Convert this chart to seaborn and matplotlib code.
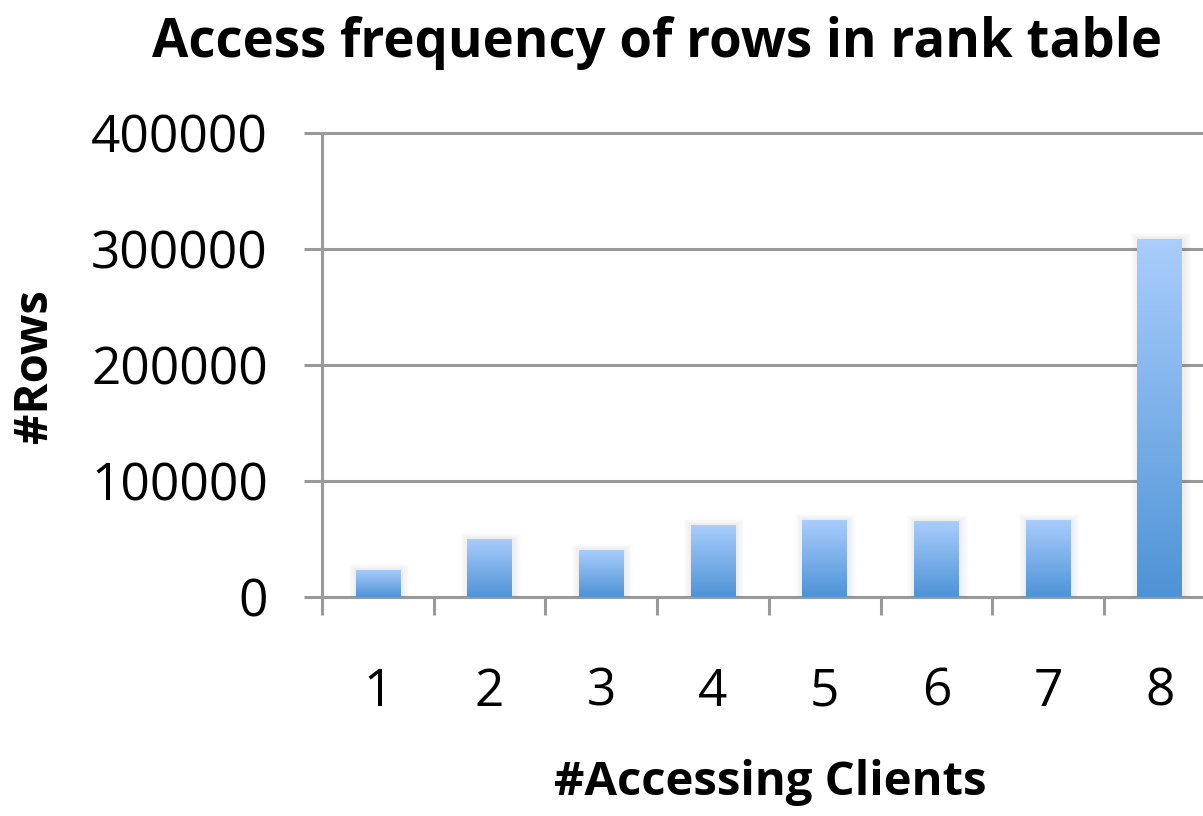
import numpy as np
import pandas as pd
import matplotlib
matplotlib.use("Agg")
import matplotlib.pyplot as plt
import seaborn as sns

# ---- data ----
clients = ["1", "2", "3", "4", "5", "6", "7", "8"]
rows = [23500, 50200, 40700, 62200, 66500, 65700, 66500, 308300]
y_ticks = [0, 100000, 200000, 300000, 400000]

title = "Access frequency of rows in rank table"
xlabel = "#Accessing Clients"
ylabel = "#Rows"

sns.set_theme(style="white")
plt.rcParams["font.family"] = ["Open Sans", "DejaVu Sans"]
plt.rcParams["text.color"] = "black"

W, H = 1203, 816
fig = plt.figure(figsize=(W / 100, H / 100), dpi=100)
ax = fig.add_axes([322 / W, (H - 597.3) / H, 893.6 / W, (597.3 - 132.7) / H])

df = pd.DataFrame({"clients": clients, "rows": rows})
sns.barplot(data=df, x="clients", y="rows", ax=ax, width=0.4,
            color="#7fb2ea", saturation=1, edgecolor="none", linewidth=0)

grid_c = "#9a9a9a"
ax.set_xlim(-0.5, 7.5)
ax.set_ylim(0, 400000)
ax.set_yticks(y_ticks)
ax.set_yticklabels([str(v) for v in y_ticks])
ax.grid(axis="y", color=grid_c, linewidth=2.2)
ax.grid(axis="x", visible=False)
ax.set_axisbelow(True)
for t in ax.yaxis.get_major_ticks():
    t.gridline.set_clip_on(False)

for s in ["top", "right"]:
    ax.spines[s].set_visible(False)
for s in ["left", "bottom"]:
    ax.spines[s].set_color(grid_c)
    ax.spines[s].set_linewidth(2.2)
    ax.spines[s].set_zorder(0.6)

ax.tick_params(axis="y", which="major", direction="out", length=13, width=2.2,
               color=grid_c, pad=26, labelsize=37, labelcolor="black", left=True)
ax.set_xticks(range(len(clients)))
ax.set_xticklabels(clients)
ax.set_xticks(np.arange(-0.5, len(clients), 1.0), minor=True)
ax.tick_params(axis="x", which="major", length=0, pad=50, labelsize=37,
               labelcolor="black", bottom=True)
ax.tick_params(axis="x", which="minor", direction="out", length=13, width=2.2,
               color=grid_c, bottom=True)
ax.set_xlabel("")
ax.set_ylabel("")

# gradient fill on bars
grad = np.linspace(0, 1, 256).reshape(-1, 1)
top = np.array([170, 206, 253]) / 255
bot = np.array([78, 147, 214]) / 255
img = top[None, None, :] * (1 - grad[:, :, None]) + bot[None, None, :] * grad[:, :, None]
for p in list(ax.patches):
    x0, y0 = p.get_x(), p.get_y()
    w, h = p.get_width(), p.get_height()
    # soft shadow (several faint expanding layers)
    for k in range(1, 7):
        dx = 0.012 * k
        ax.bar(x0 + w / 2 + 0.01, h + 900 * k, width=w + 2 * dx, bottom=y0,
               color="#000000", alpha=0.012, zorder=1.5, linewidth=0)
    im = ax.imshow(img, extent=[x0, x0 + w, y0, y0 + h], aspect="auto",
                   zorder=3, origin="upper")
    im.set_clip_path(p)
    p.set_zorder(2)
ax.set_xlim(-0.5, 7.5)
ax.set_ylim(0, 400000)

fig.text(657 / W, 1 - 57 / H, title, ha="center", va="baseline",
         fontsize=38, fontweight="bold", color="black")
fig.text(770 / W, 1 - 795 / H, xlabel, ha="center", va="baseline",
         fontsize=34, fontweight="bold", color="black")
fig.text(35 / W, 1 - 366 / H, ylabel, ha="center", va="center",
         rotation=90, fontsize=34, fontweight="bold", color="black")

fig.savefig("out.png", dpi=100)
